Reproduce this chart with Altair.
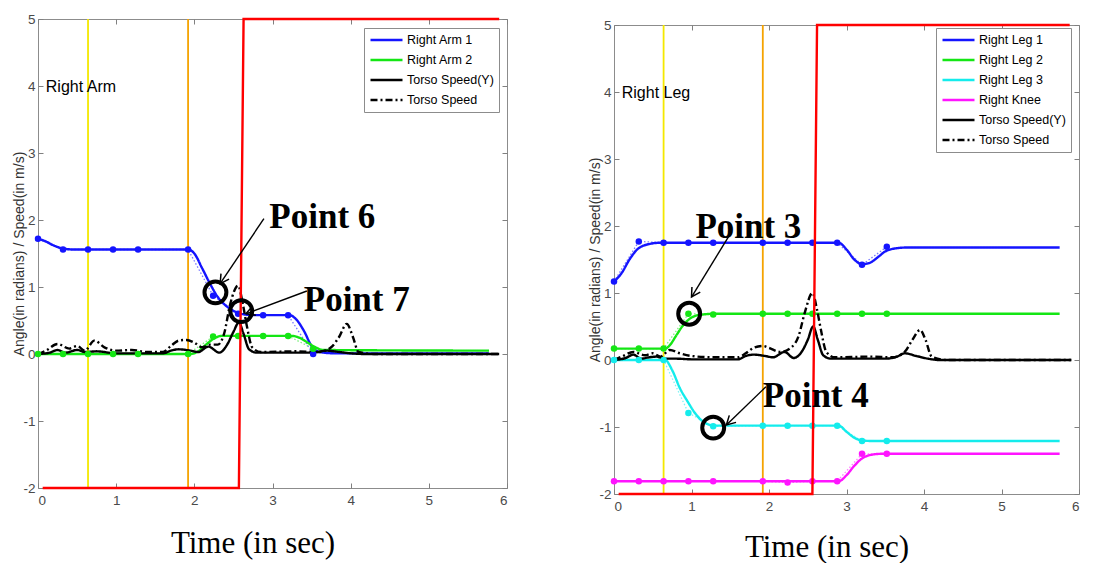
import math
import altair as alt
import pandas as pd

# ---------------- shared axis values ----------------
X_DOMAIN = [0, 6]
Y_DOMAIN = [-2, 5]
X_TICKS = [0, 1, 2, 3, 4, 5, 6]
Y_TICKS = [-2, -1, 0, 1, 2, 3, 4, 5]
SAMPLE_T = [0, 0.32, 0.64, 0.96, 1.28, 1.92, 2.24, 2.56, 2.88, 3.2, 3.52]
YELLOW_T = 0.64
ORANGE_T = 1.92

BLUE, GREEN, CYAN, MAGENTA = "#1414ff", "#14e614", "#14ecec", "#ff14ff"
BLUE_L, GREEN_L, CYAN_L, MAGENTA_L = "#7878ff", "#80f080", "#80f4f4", "#ff80ff"
BLACK, RED, YELLOW, ORANGE = "#000000", "#ff0000", "#f4e800", "#f5a300"
SOLID, DASHDOT = [1, 0], [7, 3, 2, 3]

# ---------------- left panel: Right Arm ----------------
ARM_NAMES = ["Right Arm 1", "Right Arm 2", "Torso Speed(Y)", "Torso Speed"]
ARM1_T = [0, 0.1, 0.2, 0.3, 0.45, 1.92, 2.0, 2.1, 2.2, 2.3, 2.45, 2.6, 2.75, 3.22, 3.3, 3.4, 3.5, 3.6, 3.8, 5.77]
ARM1_V = [1.72, 1.68, 1.62, 1.58, 1.56, 1.56, 1.5, 1.28, 1.05, 0.85, 0.68, 0.6, 0.58, 0.58, 0.52, 0.35, 0.12, 0.03, 0.01, 0.01]
ARM2_T = [0, 1.95, 2.05, 2.15, 2.25, 2.35, 3.25, 3.35, 3.45, 3.55, 3.65, 5.77]
ARM2_V = [0, 0, 0.04, 0.14, 0.23, 0.27, 0.27, 0.24, 0.17, 0.1, 0.06, 0.05]
ARM_TY_T = [0, 0.15, 0.25, 0.35, 0.5, 0.6, 0.75, 1.0, 1.3, 1.6, 1.7, 1.8, 1.95, 2.05, 2.18, 2.32, 2.42,
            2.5, 2.57, 2.63, 2.7, 2.8, 3.0, 3.5, 3.7, 3.85, 4.0, 4.2, 5.9]
ARM_TY_V = [0, 0.02, 0.06, 0.02, 0.06, 0.03, 0.04, 0.01, 0.01, 0.01, 0.05, 0.07, 0.05, 0.03, 0.11, 0.02, 0.14,
            0.33, 0.47, 0.3, 0.07, 0.02, 0.02, 0.02, 0.05, 0.03, 0.01, 0, 0]
ARM_TS_T = [0, 0.1, 0.25, 0.4, 0.5, 0.6, 0.72, 0.85, 1.0, 1.2, 1.4, 1.6, 1.7, 1.8, 1.9, 2.0, 2.1, 2.2, 2.3,
            2.38, 2.46, 2.56, 2.62, 2.67, 2.74, 2.85, 3.3, 3.6, 3.75, 3.85, 3.95, 4.03, 4.1, 4.3, 5.9]
ARM_TS_V = [0, 0.05, 0.15, 0.08, 0.12, 0.05, 0.2, 0.1, 0.05, 0.06, 0.03, 0.03, 0.12, 0.2, 0.21, 0.17, 0.1,
            0.14, 0.14, 0.3, 0.75, 1.02, 0.75, 0.43, 0.1, 0.03, 0.04, 0.03, 0.1, 0.25, 0.45, 0.25, 0.03, 0, 0]
ARM1_S = [1.72, 1.56, 1.56, 1.56, 1.56, 1.56, 0.87, 0.6, 0.58, 0.58, 0.0]
ARM2_S = [0, 0, 0, 0, 0, 0, 0.26, 0.27, 0.27, 0.27, 0.08]
ARM_RED_T = [0.06, 2.57, 2.63, 5.9]
ARM_RED_V = [-2, -2, 5, 5]
ARM_CIRCLES_T = [2.27, 2.6]
ARM_CIRCLES_V = [0.92, 0.64]
ARM_ARROW_FROM = [(2.89, 2.02), (3.44, 0.94)]
ARM_ARROW_TO = [(2.33, 1.05), (2.66, 0.6)]
ARM_NOTES = ["Point 6", "Point 7"]
ARM_NOTES_T = [2.96, 3.40]
ARM_NOTES_V = [2.05, 0.80]

# ---------------- right panel: Right Leg ----------------
LEG_NAMES = ["Right Leg 1", "Right Leg 2", "Right Leg 3", "Right Knee", "Torso Speed(Y)", "Torso Speed"]
LEG1_T = [0, 0.1, 0.2, 0.3, 0.45, 0.6, 2.9, 3.0, 3.1, 3.2, 3.3, 3.4, 3.5, 3.6, 3.8, 5.75]
LEG1_V = [1.17, 1.3, 1.5, 1.65, 1.73, 1.75, 1.75, 1.65, 1.5, 1.43, 1.45, 1.53, 1.62, 1.66, 1.68, 1.68]
LEG2_T = [0, 0.66, 0.72, 0.8, 0.88, 0.96, 1.05, 1.15, 1.3, 5.75]
LEG2_V = [0.17, 0.17, 0.22, 0.36, 0.5, 0.6, 0.66, 0.68, 0.69, 0.69]
LEG3_T = [0, 0.66, 0.75, 0.85, 0.95, 1.05, 1.15, 1.3, 2.9, 3.0, 3.1, 3.2, 3.35, 5.75]
LEG3_V = [0, 0, -0.15, -0.42, -0.62, -0.8, -0.92, -0.98, -0.98, -1.07, -1.16, -1.2, -1.21, -1.21]
KNEE_T = [0, 2.9, 3.0, 3.1, 3.2, 3.3, 3.45, 5.75]
KNEE_V = [-1.81, -1.81, -1.72, -1.58, -1.47, -1.42, -1.4, -1.4]
LEG_TY_T = [0, 0.15, 0.25, 0.35, 0.45, 0.55, 0.65, 0.8, 1.0, 1.6, 1.7, 1.8, 1.95, 2.05, 2.2, 2.32, 2.42,
            2.5, 2.57, 2.63, 2.7, 2.8, 3.0, 3.5, 3.65, 3.75, 3.9, 4.05, 4.2, 5.9]
LEG_TY_V = [0, 0.03, 0.08, 0.02, 0.04, 0.05, 0.02, 0.02, 0.01, 0.01, 0.06, 0.08, 0.06, 0.04, 0.12, 0.03, 0.12,
            0.3, 0.5, 0.3, 0.07, 0.02, 0.02, 0.02, 0.05, 0.1, 0.06, 0.02, 0, 0]
LEG_TS_T = [0, 0.1, 0.25, 0.4, 0.5, 0.6, 0.72, 0.85, 1.0, 1.3, 1.6, 1.7, 1.8, 1.92, 2.0, 2.15, 2.3, 2.38,
            2.46, 2.56, 2.62, 2.67, 2.74, 2.85, 3.3, 3.6, 3.75, 3.85, 3.95, 4.02, 4.1, 4.3, 5.9]
LEG_TS_V = [0, 0.05, 0.12, 0.07, 0.1, 0.05, 0.15, 0.1, 0.06, 0.04, 0.04, 0.1, 0.18, 0.21, 0.18, 0.12, 0.2,
            0.35, 0.7, 1.0, 0.75, 0.45, 0.12, 0.04, 0.05, 0.04, 0.12, 0.3, 0.45, 0.3, 0.05, 0, 0]
LEG1_S = [1.17, 1.77, 1.75, 1.75, 1.75, 1.75, 1.75, 1.75, 1.75, 1.42, 1.69]
LEG2_S = [0.17, 0.17, 0.17, 0.69, 0.68, 0.69, 0.69, 0.69, 0.69, 0.69, 0.69]
LEG3_S = [0, 0, 0, -0.79, -0.99, -0.98, -0.98, -0.98, -0.98, -1.21, -1.21]
KNEE_S = [-1.81, -1.81, -1.81, -1.81, -1.81, -1.81, -1.83, -1.81, -1.81, -1.4, -1.4]
LEG_RED_T = [0.06, 2.56, 2.62, 5.88]
LEG_RED_V = [-2, -2, 5, 5]
LEG_CIRCLES_T = [0.97, 1.28]
LEG_CIRCLES_V = [0.69, -1.01]
LEG_ARROW_FROM = [(1.51, 1.9), (1.96, -0.40)]
LEG_ARROW_TO = [(1.0, 0.94), (1.45, -0.97)]
LEG_NOTES = ["Point 3", "Point 4"]
LEG_NOTES_T = [1.05, 1.92]
LEG_NOTES_V = [1.98, -0.53]


def long_df(names, ts, vs, colors=None):
    rows = []
    for i, (n, t, v) in enumerate(zip(names, ts, vs)):
        for a, b in zip(t, v):
            r = {"s": n, "t": a, "v": b}
            if colors:
                r["c"] = colors[i]
            rows.append(r)
    return pd.DataFrame(rows)


def make_panel(names, colors, dashes, ser_t, ser_v, samp_names, samp_vals, samp_cols, samp_lcols,
               red_t, red_v, circ_t, circ_v, arr_from, arr_to, notes, notes_t, notes_v,
               label, W, H, legend_xy, x_title_pad):
    xs = alt.Scale(domain=X_DOMAIN, nice=False, zero=False)
    ys = alt.Scale(domain=Y_DOMAIN, nice=False, zero=False)
    common = dict(labelFont="Liberation Sans", labelFontSize=13.5, labelColor="#4a4a4a",
                  tickColor="#808080", tickSize=5, offset=-5, domain=False, grid=False,
                  labelExpr="'' + datum.value")

    def X(axis=None):
        return alt.X("t:Q", scale=xs, axis=axis)

    def Y(axis=None):
        return alt.Y("v:Q", scale=ys, axis=axis)

    ev = pd.DataFrame({"t": [YELLOW_T, ORANGE_T], "c": [YELLOW, ORANGE],
                       "v": [Y_DOMAIN[0]] * 2, "v2": [Y_DOMAIN[1]] * 2})
    rules = alt.Chart(ev).mark_rule(strokeWidth=1.8).encode(
        x=X(), y=Y(), y2="v2:Q", color=alt.Color("c:N", scale=None))

    raw = long_df(samp_names, [SAMPLE_T] * len(samp_names), samp_vals, samp_lcols)
    rawp = long_df(samp_names, [SAMPLE_T] * len(samp_names), samp_vals, samp_cols)
    rawl = alt.Chart(raw).mark_line(strokeWidth=1.3, strokeDash=[1.5, 2]).encode(
        x=X(), y=Y(), color=alt.Color("c:N", scale=None), detail="s:N")
    pts = alt.Chart(rawp).mark_circle(size=42, opacity=1).encode(
        x=X(), y=Y(), color=alt.Color("c:N", scale=None))

    leg = alt.Legend(title=None, orient="none", legendX=legend_xy[0], legendY=legend_xy[1],
                     symbolType="stroke", symbolSize=1024, symbolStrokeWidth=2.5, clipHeight=14,
                     rowPadding=6, labelFont="Liberation Sans", labelFontSize=12.5, labelColor="black",
                     labelOffset=3, fillColor="white", strokeColor="#8c8c8c", padding=5)
    x_axis = alt.Axis(orient="bottom", values=X_TICKS, title="Time (in sec)", labelPadding=5,
                      titleFont="Liberation Serif", titleFontSize=31, titleFontWeight="normal",
                      titleColor="black", titlePadding=x_title_pad, titleX=W / 2 - 20, **common)
    y_axis = alt.Axis(orient="left", values=Y_TICKS, title="Angle(in radians) / Speed(in m/s)",
                      labelPadding=3, titleFont="Liberation Sans", titleFontSize=14,
                      titleFontWeight="normal", titleColor="#333333", titlePadding=-4, **common)
    df = long_df(names, ser_t, ser_v)
    lines = alt.Chart(df).mark_line(strokeWidth=2.4, interpolate="monotone").encode(
        x=X(x_axis), y=Y(y_axis),
        color=alt.Color("s:N", scale=alt.Scale(domain=names, range=colors), legend=leg),
        strokeDash=alt.StrokeDash("s:N", scale=alt.Scale(domain=names, range=dashes), legend=leg))

    top_axis = alt.Axis(orient="top", values=X_TICKS, labels=False, title=None, **common)
    right_axis = alt.Axis(orient="right", values=Y_TICKS, labels=False, title=None, **common)
    red = alt.Chart(pd.DataFrame({"t": red_t, "v": red_v})).mark_line(color=RED, strokeWidth=2.4).encode(
        x=X(top_axis), y=Y(right_axis))

    circ = alt.Chart(pd.DataFrame({"t": circ_t, "v": circ_v})).mark_point(
        shape="circle", filled=False, size=480, strokeWidth=4, color="black", opacity=1).encode(x=X(), y=Y())

    sx, sy = W / (X_DOMAIN[1] - X_DOMAIN[0]), H / (Y_DOMAIN[1] - Y_DOMAIN[0])
    arows, heads = [], []
    for i, (a, b) in enumerate(zip(arr_from, arr_to)):
        arows += [{"id": i, "k": 0, "t": a[0], "v": a[1]}, {"id": i, "k": 1, "t": b[0], "v": b[1]}]
        dx, dy = (b[0] - a[0]) * sx, -(b[1] - a[1]) * sy
        ang = math.degrees(math.atan2(dx, -dy)) % 360
        heads.append({"t": b[0], "v": b[1], "a": ang})
    shafts = alt.Chart(pd.DataFrame(arows)).mark_line(color="black", strokeWidth=1.4).encode(
        x=X(), y=Y(), detail="id:N", order="k:Q")
    hd = alt.Chart(pd.DataFrame(heads)).mark_point(
        shape="M -0.5 0.9 L 0 0 L 0.5 0.9", filled=False, size=380, strokeWidth=1.5,
        color="black", opacity=1).encode(x=X(), y=Y(), angle=alt.Angle("a:Q", scale=None))

    txt = alt.Chart(pd.DataFrame({"n": notes, "t": notes_t, "v": notes_v})).mark_text(
        font="Liberation Serif", fontSize=35, fontWeight="bold", align="left", baseline="middle",
        color="black").encode(x=X(), y=Y(), text="n:N")
    lab = alt.Chart(pd.DataFrame({"n": [label], "t": [0.1], "v": [3.98]})).mark_text(
        font="Liberation Sans", fontSize=16, align="left", baseline="middle", color="black").encode(
        x=X(), y=Y(), text="n:N")

    return alt.layer(rules, rawl, lines, pts, red, circ, shafts, hd, txt, lab).resolve_axis(
        x="independent", y="independent").properties(width=W, height=H)


left = make_panel(
    ARM_NAMES, [BLUE, GREEN, BLACK, BLACK], [SOLID, SOLID, SOLID, DASHDOT],
    [ARM1_T, ARM2_T, ARM_TY_T, ARM_TS_T], [ARM1_V, ARM2_V, ARM_TY_V, ARM_TS_V],
    ["a1", "a2"], [ARM1_S, ARM2_S], [BLUE, GREEN], [BLUE_L, GREEN_L],
    ARM_RED_T, ARM_RED_V, ARM_CIRCLES_T, ARM_CIRCLES_V, ARM_ARROW_FROM, ARM_ARROW_TO,
    ARM_NOTES, ARM_NOTES_T, ARM_NOTES_V, "Right Arm", 469, 469, (326, 9), 22)

right = make_panel(
    LEG_NAMES, [BLUE, GREEN, CYAN, MAGENTA, BLACK, BLACK], [SOLID, SOLID, SOLID, SOLID, SOLID, DASHDOT],
    [LEG1_T, LEG2_T, LEG3_T, KNEE_T, LEG_TY_T, LEG_TS_T], [LEG1_V, LEG2_V, LEG3_V, KNEE_V, LEG_TY_V, LEG_TS_V],
    ["l1", "l2", "l3", "k"], [LEG1_S, LEG2_S, LEG3_S, KNEE_S], [BLUE, GREEN, CYAN, MAGENTA],
    [BLUE_L, GREEN_L, CYAN_L, MAGENTA_L],
    LEG_RED_T, LEG_RED_V, LEG_CIRCLES_T, LEG_CIRCLES_V, LEG_ARROW_FROM, LEG_ARROW_TO,
    LEG_NOTES, LEG_NOTES_T, LEG_NOTES_V, "Right Leg", 465, 469, (322, 9), 20)

# invisible spacer that drops the right panel a few pixels lower, as in the original figure
spacer = alt.Chart(pd.DataFrame({"a": [0]})).mark_text(text="", opacity=0).encode(
    x=alt.value(0), y=alt.value(0)).properties(
    width=1, height=1, view=alt.ViewBackground(stroke="transparent"))

right_col = alt.vconcat(spacer, right, spacing=-9)

chart = alt.hconcat(left, right_col, spacing=80).resolve_scale(
    color="independent", strokeDash="independent").properties(
    padding={"left": 12, "top": 11, "right": 5, "bottom": 5}, background="white"
).configure_view(stroke="#8c8c8c", strokeWidth=1)

chart.save("out.html", embed_options={"renderer": "svg", "actions": False})
